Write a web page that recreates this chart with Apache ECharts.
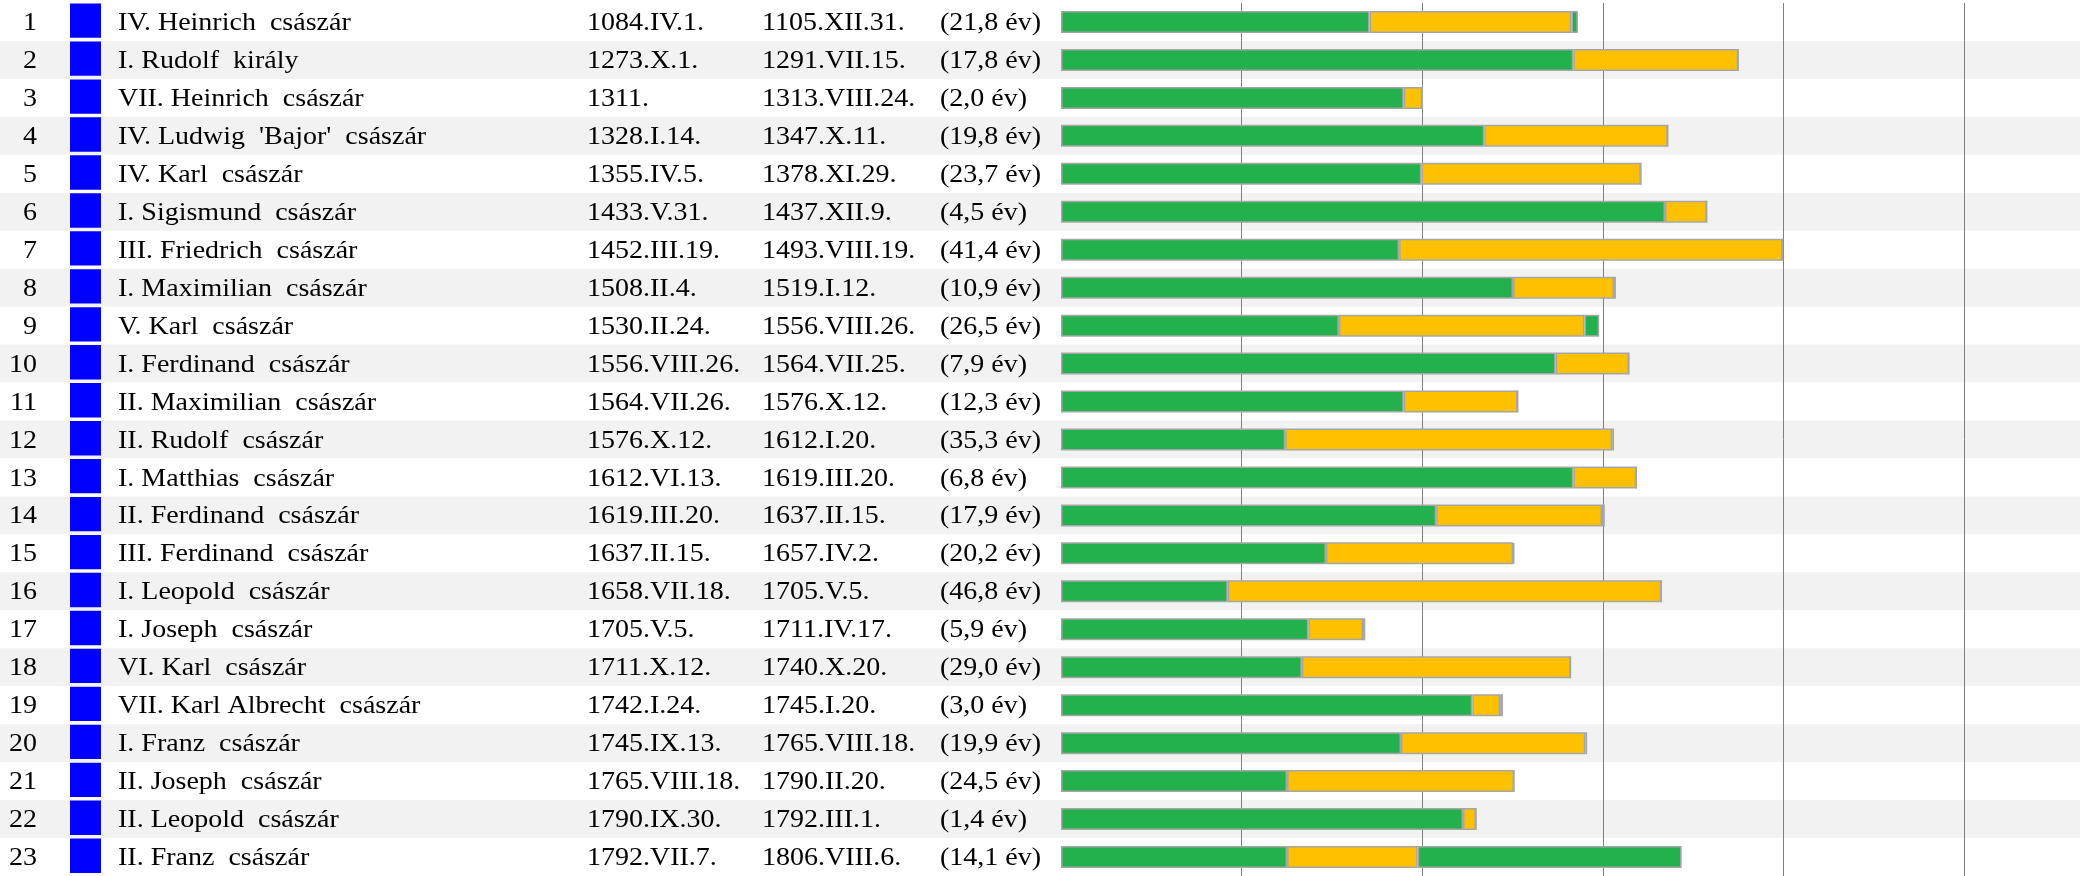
<!DOCTYPE html>
<html>
<head>
<meta charset="utf-8">
<style>
  html, body { margin: 0; padding: 0; background: #ffffff; }
  #chart { width: 2080px; height: 876px; }
</style>
<script src="https://cdn.jsdelivr.net/npm/echarts@6/dist/echarts.min.js"></script>
</head>
<body>
<div id="chart"></div>
<script>
// Holy Roman emperors: accession, end of reign, and life span split into
// age at accession, years of reign and years lived after the reign.
const rulers = [
  "IV. Heinrich  császár", "I. Rudolf  király", "VII. Heinrich  császár",
  "IV. Ludwig  'Bajor'  császár", "IV. Karl  császár", "I. Sigismund  császár",
  "III. Friedrich  császár", "I. Maximilian  császár", "V. Karl  császár",
  "I. Ferdinand  császár", "II. Maximilian  császár", "II. Rudolf  császár",
  "I. Matthias  császár", "II. Ferdinand  császár", "III. Ferdinand  császár",
  "I. Leopold  császár", "I. Joseph  császár", "VI. Karl  császár",
  "VII. Karl Albrecht  császár", "I. Franz  császár", "II. Joseph  császár",
  "II. Leopold  császár", "II. Franz  császár"
];
const reignStart = [
  "1084.IV.1.", "1273.X.1.", "1311.", "1328.I.14.", "1355.IV.5.", "1433.V.31.",
  "1452.III.19.", "1508.II.4.", "1530.II.24.", "1556.VIII.26.", "1564.VII.26.",
  "1576.X.12.", "1612.VI.13.", "1619.III.20.", "1637.II.15.", "1658.VII.18.",
  "1705.V.5.", "1711.X.12.", "1742.I.24.", "1745.IX.13.", "1765.VIII.18.",
  "1790.IX.30.", "1792.VII.7."
];
const reignEnd = [
  "1105.XII.31.", "1291.VII.15.", "1313.VIII.24.", "1347.X.11.", "1378.XI.29.",
  "1437.XII.9.", "1493.VIII.19.", "1519.I.12.", "1556.VIII.26.", "1564.VII.25.",
  "1576.X.12.", "1612.I.20.", "1619.III.20.", "1637.II.15.", "1657.IV.2.",
  "1705.V.5.", "1711.IV.17.", "1740.X.20.", "1745.I.20.", "1765.VIII.18.",
  "1790.II.20.", "1792.III.1.", "1806.VIII.6."
];
const reignYears = [
  21.8, 17.8, 2.0, 19.8, 23.7, 4.5, 41.4, 10.9, 26.5, 7.9, 12.3, 35.3,
  6.8, 17.9, 20.2, 46.8, 5.9, 29.0, 3.0, 19.9, 24.5, 1.4, 14.1
];
const ageAtAccession = [
  33.3, 55.3, 37.0, 45.7, 38.9, 65.2, 36.5, 48.8, 30.0, 53.4, 37.0, 24.2,
  55.3, 40.5, 28.6, 18.0, 26.7, 26.0, 44.4, 36.7, 24.4, 43.4, 24.4
];
const yearsAfterReign = [
  0.7, 0, 0, 0, 0, 0, 0, 0.2, 1.6, 0, 0, 0.2,
  0, 0.3, 0.15, 0, 0.25, 0, 0.3, 0.2, 0, 0, 28.5
];

const rowIds = rulers.map((_, i) => String(i + 1));
const GREEN = '#23b14d';
const YELLOW = '#ffc000';
const BORDER = '#a6a6a6';
const FONT = '25px "Liberation Serif", "Times New Roman", serif';
const TEXT_SCALE_X = 1.12;

function yearsLabel(v) {
  return '(' + v.toFixed(1).replace('.', ',') + ' év)';
}

function textEl(x, y, str, align) {
  return {
    type: 'text',
    x: x, y: y,
    scaleX: TEXT_SCALE_X,
    style: { text: str, font: FONT, fill: '#000000', align: align || 'left', verticalAlign: 'middle' }
  };
}

// table columns on the left: number, blue marker, name, dates, reign length
function renderRow(params, api) {
  const i = params.dataIndex;
  const cy = api.coord([0, i])[1];
  const band = api.size([0, 1])[1];
  const top = cy - band / 2;
  const ty = cy + 1.5;
  return {
    type: 'group',
    children: [
      textEl(37, ty, rowIds[i], 'right'),
      { type: 'rect', shape: { x: 70, y: top + 0.5, width: 31, height: band - 3.6 },
        style: { fill: '#0000ff' } },
      textEl(118, ty, rulers[i]),
      textEl(587, ty, reignStart[i]),
      textEl(762, ty, reignEnd[i]),
      textEl(940, ty, yearsLabel(reignYears[i]))
    ]
  };
}

const chart = echarts.init(document.getElementById('chart'), null, { renderer: 'canvas' });

const barBase = {
  type: 'bar', stack: 'life', xAxisIndex: 1, yAxisIndex: 1,
  barWidth: 22, silent: true,
  itemStyle: { borderColor: BORDER, borderWidth: 1.5 }
};

chart.setOption({
  animation: false,
  backgroundColor: '#ffffff',
  grid: [
    { left: 0, right: 0, top: 3, height: 877 },
    { left: 1061, width: 1020.8, top: 3, height: 877 }
  ],
  xAxis: [
    { gridIndex: 0, type: 'value', min: 0, max: 1, show: false },
    {
      gridIndex: 1, type: 'value', min: 0, max: 110, interval: 19.5,
      axisLine: { show: false }, axisTick: { show: false }, axisLabel: { show: false },
      splitLine: { show: true, showMinLine: false, showMaxLine: false,
                   lineStyle: { color: '#7f7f7f', width: 1 } },
      z: 1
    }
  ],
  yAxis: [
    {
      gridIndex: 0, type: 'category', data: rowIds, inverse: true,
      axisLine: { show: false }, axisTick: { show: false }, axisLabel: { show: false },
      splitLine: { show: false },
      splitArea: { show: true, areaStyle: { color: ['#ffffff', '#f2f2f2'] } },
      z: 0
    },
    {
      gridIndex: 1, type: 'category', data: rowIds, inverse: true,
      axisLine: { show: false }, axisTick: { show: false }, axisLabel: { show: false },
      splitLine: { show: false }
    }
  ],
  series: [
    {
      type: 'custom', xAxisIndex: 0, yAxisIndex: 0, silent: true,
      renderItem: renderRow,
      data: rowIds.map((_, i) => [0, i])
    },
    Object.assign({}, barBase, { name: 'kor', data: ageAtAccession,
      itemStyle: Object.assign({}, barBase.itemStyle, { color: GREEN }) }),
    Object.assign({}, barBase, { name: 'uralkodás', data: reignYears,
      itemStyle: Object.assign({}, barBase.itemStyle, { color: YELLOW }) }),
    Object.assign({}, barBase, { name: 'utána', data: yearsAfterReign,
      itemStyle: Object.assign({}, barBase.itemStyle, { color: GREEN }) })
  ]
});
</script>
</body>
</html>
